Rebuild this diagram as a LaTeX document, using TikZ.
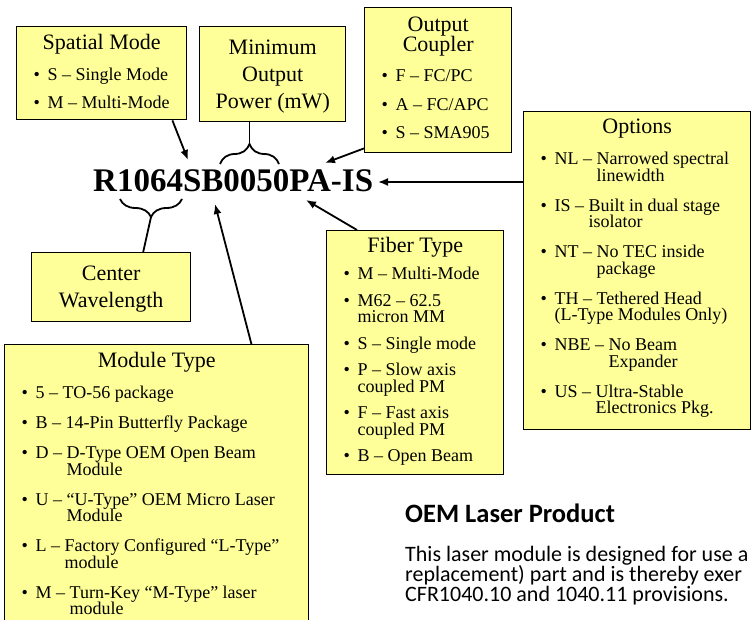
\documentclass[tikz,border=0pt]{standalone}
\usepackage{fontspec}
\setmainfont{Liberation Serif}
\newfontfamily\calibri{Carlito}
\usepackage{tikz}
\usetikzlibrary{positioning}
\usetikzlibrary{arrows.meta}
\usetikzlibrary{decorations.pathreplacing}
\definecolor{codeyellow}{RGB}{255,255,153}

\newlength\hangw
\newcommand\bul{\makebox[14pt][l]{\textbullet}}
% item with wrapped lines under the text after the dash
\newcommand\hitem[2]{\par\settowidth\hangw{\bul#1 – }\hangindent=\hangw\hangafter=1\noindent\bul#1 – #2}
% item with wrapped lines under the code letters
\newcommand\pitem[1]{\par\hangindent=14pt\hangafter=1\noindent\bul#1}
% centred title: height of first line, line spacing, text
\newcommand\boxtitle[3]{{\centering\fontsize{22}{#2}\selectfont\rule{0pt}{#1}#3\par}}
% list below the title: gap between items, extra gap under title
\newcommand\listsetup[2]{\fontsize{18}{16.5}\selectfont\setlength\parskip{#1}\vspace{#2}%
  \leftskip=17pt\relax\rightskip=0pt plus 1fil\relax\parfillskip=0pt plus 1fil\relax}
% box of fixed width and height, text from the top
\newcommand\boxtext[3]{\parbox[c][#2][t]{#1}{\lineskiplimit=-50pt\relax #3}}

\begin{document}
\begin{tikzpicture}[x=1pt, y=-1pt, >={Latex[length=10pt,width=8pt]},
  codebox/.style={draw=black, line width=1.4pt, fill=codeyellow, inner sep=0pt, anchor=north west},
  conn/.style={black, line width=1.8pt},
  curly/.style={black, line width=1.8pt, decorate, decoration={brace, amplitude=#1}}]

\fill[white, use as bounding box] (0,0) rectangle (751,620);

% part number
\node at (93,192) [anchor=base west, inner sep=0pt, font=\bfseries\fontsize{33}{33}\selectfont] (pn) {R1064SB0050PA-IS};

% boxes around the part number
\node at (16,26) [codebox] (spatial) {\boxtext{170pt}{93pt}{%
  \boxtitle{23pt}{22pt}{Spatial Mode}
  \listsetup{11.5pt}{3pt}
  \hitem{S}{Single Mode}
  \hitem{M}{Multi-Mode}}};

\node at (199,26) [codebox] (power) {\boxtext{146pt}{95pt}{%
  \boxtitle{28pt}{27pt}{Minimum\\Output\\Power (mW)}}};

\node at (364,7) [codebox] (coupler) {\boxtext{147pt}{145pt}{%
  \boxtitle{24pt}{20pt}{Output\\Coupler}
  \listsetup{12pt}{1.5pt}
  \hitem{F}{FC/PC}
  \hitem{A}{FC/APC}
  \hitem{S}{SMA905}}};

\node at (523,111) [codebox] (options) {\boxtext{227pt}{318pt}{%
  \boxtitle{22pt}{22pt}{Options}
  \listsetup{13.5pt}{1pt}
  \hitem{NL}{Narrowed spectral\\linewidth}
  \hitem{IS}{Built in dual stage\\isolator}
  \hitem{NT}{No TEC inside\\package}
  \pitem{TH – Tethered Head\\(L-Type Modules Only)}
  \hitem{NBE}{No Beam\\Expander}
  \hitem{US}{Ultra-Stable\\Electronics Pkg.}}};

\node at (31,252) [codebox] (wave) {\boxtext{159pt}{69pt}{%
  \boxtitle{28pt}{27pt}{Center\\Wavelength}}};

\node at (326,230) [codebox] (fiber) {\boxtext{177pt}{244pt}{%
  \boxtitle{22pt}{22pt}{Fiber Type}
  \listsetup{10pt}{0.5pt}
  \hitem{M}{Multi-Mode}
  \pitem{M62 – 62.5\\micron MM}
  \hitem{S}{Single mode}
  \pitem{P – Slow axis\\coupled PM}
  \pitem{F – Fast axis\\coupled PM}
  \hitem{B}{Open Beam}}};

\node at (4,344) [codebox] (module) {\boxtext{304pt}{290pt}{%
  \boxtitle{23pt}{22pt}{Module Type}
  \listsetup{13.5pt}{1pt}
  \hitem{5}{TO-56 package}
  \hitem{B}{14-Pin Butterfly Package}
  \hitem{D}{D-Type OEM Open Beam\\Module}
  \hitem{U}{“U-Type” OEM Micro Laser\\Module}
  \hitem{L}{Factory Configured “L-Type”\\module}
  \hitem{M}{Turn-Key “M-Type” laser\\module}}};

% points on the part number
\coordinate (sm-tip) at (188,160);
\coordinate (oc-tip) at (325,163);
\coordinate (op-tip) at (378,182);
\coordinate (ft-tip) at (306,200);
\coordinate (mt-tip) at (215,204);

\draw[conn, ->] ([xshift=-15pt]spatial.south east) -- (sm-tip);
\draw[conn, ->] ([yshift=5pt]coupler.south west) -- (oc-tip);
\draw[conn, ->] ([yshift=-71pt]options.north west) -- (op-tip);
\draw[conn, ->] ([xshift=31pt]fiber.north west) -- (ft-tip);
\draw[conn, ->] ([xshift=-58pt]module.north east) -- (mt-tip);

% braces over 0050 and under 1064
\coordinate (pw-l) at (220,164);
\coordinate (pw-r) at (279,164);
\coordinate (pw-tip) at (249.5,144);
\coordinate (cw-r) at (182,199);
\coordinate (cw-l) at (120,199);
\coordinate (cw-tip) at (151,217);

\draw[curly=20pt] (pw-l) -- (pw-r);
\draw[conn] (pw-tip) -- (pw-tip |- power.south);
\draw[curly=18pt] (cw-r) -- (cw-l);
\draw[conn] (cw-tip) -- ([xshift=32pt]wave.north);

% note at the bottom right
\node at (405,522) [anchor=base west, inner sep=0pt, font=\calibri\bfseries\fontsize{26.5}{30}\selectfont] (oemhead) {OEM Laser Product};
\node at (405,561) [anchor=base west, inner sep=0pt, font=\calibri] (oemtext)
  {\parbox[t]{400pt}{\fontsize{22}{20}\selectfont\lineskiplimit=-30pt\relax
   This laser module is designed for use a\\replacement) part and is thereby exer\\CFR1040.10 and 1040.11 provisions.}};

\end{tikzpicture}
\end{document}
